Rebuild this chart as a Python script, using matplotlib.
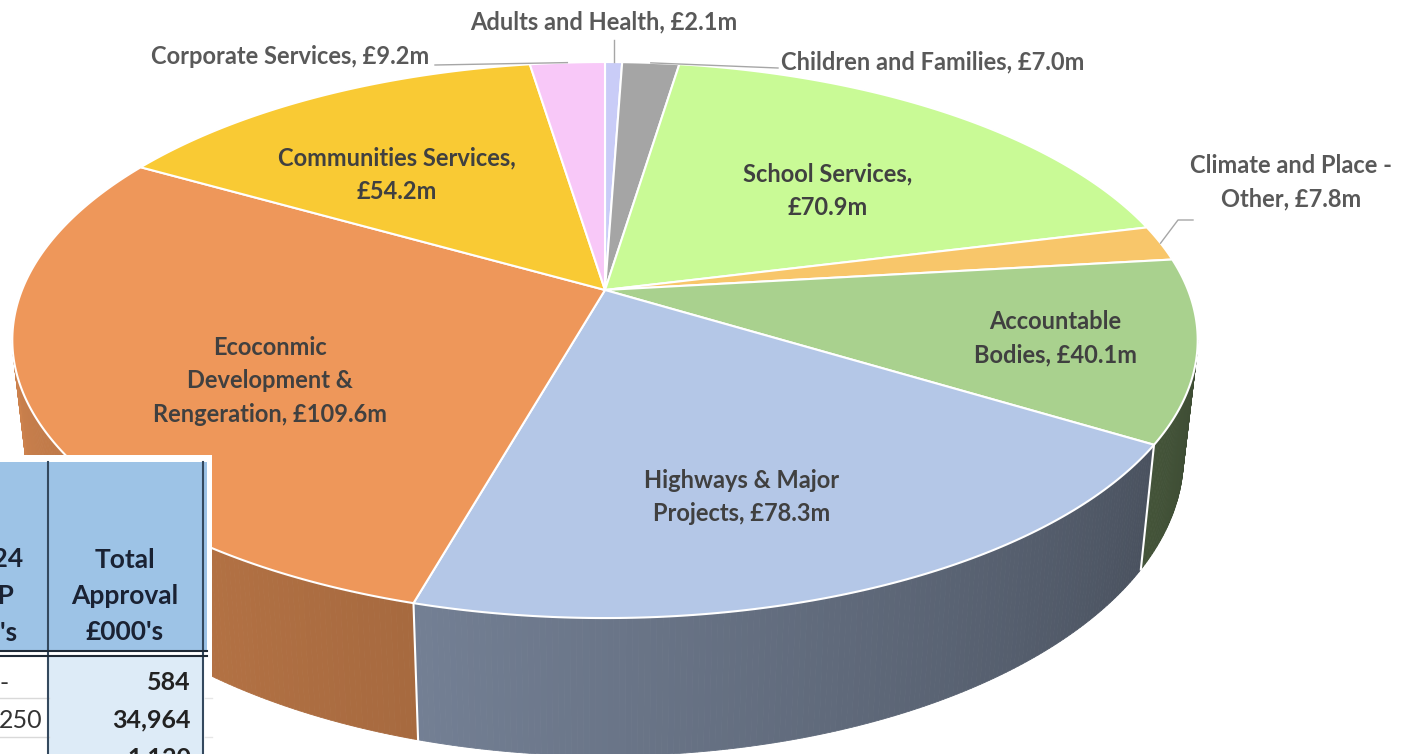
import numpy as np
import matplotlib.pyplot as plt
from matplotlib.patches import Polygon, Rectangle
from matplotlib import colors as mcolors

plt.rcParams['font.family'] = ['Lato', 'DejaVu Sans']

# capital spend by directorate, £m (clockwise from 12 o'clock)
categories = ["Adults and Health", "Children and Families", "School Services",
              "Climate and Place - Other", "Accountable Bodies",
              "Highways & Major Projects", "Ecoconmic Development & Rengeration",
              "Communities Services", "Corporate Services"]
values_m = [2.1, 7.0, 70.9, 7.8, 40.1, 78.3, 109.6, 54.2, 9.2]
label_lines = ["Adults and Health, £2.1m",
               "Children and Families, £7.0m",
               "School Services,\n£70.9m",
               "Climate and Place -\nOther, £7.8m",
               "Accountable\nBodies, £40.1m",
               "Highways & Major\nProjects, £78.3m",
               "Ecoconmic\nDevelopment &\nRengeration, £109.6m",
               "Communities Services,\n£54.2m",
               "Corporate Services, £9.2m"]

# table fragment in the corner
table_header1 = ["2023/24", "MTFP", "£000's"]
table_header2 = "Total\nApproval\n£000's"
table_col1 = ["-", "250", "-"]
table_col2 = ["584", "34,964", "1,120"]

# styling
top_colors = ["#C9CCF7", "#A5A5A5", "#C9FA96", "#F8C66A", "#A9D18E",
              "#B4C7E7", "#EE975A", "#F9CA34", "#F8C8F8"]
# shade factor of the wall at (start angle, end angle) of each visible slice
side_shade = {4: (0.36, 0.40), 5: (0.41, 0.64), 6: (0.70, 0.86)}
label_xy = [(604, 22), (933, 62), (828, 191), (1291, 182), (1055, 338),
            (742, 497), (270, 381), (397, 175), (290, 57)]
inside = [False, False, True, False, True, True, True, True, False]

# perspective disc geometry (pixel space)
CX, CY = 605, 290
A, B, K = 583, 269, 0.18
T, SHRINK = 113, 0.976


def project(alpha, bottom=False):
    a = np.radians(alpha)
    X, Y = np.sin(a), -np.cos(a)
    w = 1 - K * Y
    x = CX + A * X / w
    y = CY + B * Y / w
    if bottom:
        x = CX + (x - CX) * SHRINK
        y = y + T / w
    return x, y


def shade(color, f):
    r, g, b = mcolors.to_rgb(color)
    return (r * f, g * f, b * f)


fig = plt.figure(figsize=(14.06, 7.54), dpi=100)
ax = fig.add_axes([0, 0, 1, 1])
ax.set_xlim(0, 1406)
ax.set_ylim(754, 0)
ax.axis('off')

bounds = np.concatenate([[0], np.cumsum(values_m)]) / sum(values_m) * 360
vis_lo = np.degrees(np.arccos(-K))
vis_hi = 360 - vis_lo

# side wall
for i in range(len(values_m)):
    a0, a1 = max(bounds[i], vis_lo), min(bounds[i + 1], vis_hi)
    if a1 <= a0:
        continue
    f0, f1 = side_shade.get(i, (0.6, 0.6))
    steps = np.linspace(a0, a1, int((a1 - a0) / 0.5) + 2)
    for j in range(len(steps) - 1):
        t = (j + 0.5) / (len(steps) - 1)
        c = shade(top_colors[i], f0 + (f1 - f0) * t)
        p = [project(steps[j]), project(steps[j + 1]),
             project(steps[j + 1], True), project(steps[j], True)]
        ax.add_patch(Polygon(p, closed=True, facecolor=c, edgecolor=c, lw=0.6, zorder=1))
for b in bounds[1:-1]:
    if vis_lo < b < vis_hi:
        (x0, y0), (x1, y1) = project(b), project(b, True)
        ax.plot([x0, x1], [y0, y1], color='white', lw=1.5, zorder=1.5)

# top face
for i in range(len(values_m)):
    arc = np.linspace(bounds[i], bounds[i + 1], int((bounds[i + 1] - bounds[i]) / 0.5) + 2)
    pts = [(CX, CY)] + [project(a) for a in arc]
    ax.add_patch(Polygon(pts, closed=True, facecolor=top_colors[i], edgecolor='white',
                         lw=1.5, joinstyle='round', zorder=2))

# leader lines
mids = (bounds[:-1] + bounds[1:]) / 2
lead = '#A6A6A6'
mx, my = project(mids[0])
ax.plot([mx, mx], [my, 40], color=lead, lw=1, zorder=3)
mx, my = project(mids[1])
ax.plot([mx, 778], [my, 68], color=lead, lw=1, zorder=3)
mx, my = project(mids[3])
ax.plot([mx, 1178, 1193], [my, 220, 220], color=lead, lw=1, zorder=3)
mx, my = project(mids[8])
ax.plot([mx, 435], [my, 65], color=lead, lw=1, zorder=3)

# labels
for txt, (x, y), ins in zip(label_lines, label_xy, inside):
    ax.text(x, y, txt, ha='center', va='center', fontsize=17, fontweight='bold',
            color='#404040' if ins else '#595959', linespacing=1.55, zorder=4)

# table fragment
ax.add_patch(Rectangle((0, 455), 212, 300, facecolor='white', edgecolor='none', zorder=5))
ax.add_patch(Rectangle((0, 462), 207, 190, facecolor='#9DC3E6', edgecolor='none', zorder=5))
ax.add_patch(Rectangle((49, 656), 154, 100, facecolor='#DDEBF7', edgecolor='none', zorder=5))
for yy in (698, 737):
    ax.plot([0, 49], [yy, yy], color='#D9D9D9', lw=1, zorder=5.5)
    ax.plot([205, 212], [yy, yy], color='#E6E6E6', lw=1, zorder=5.5)
for xx in (48, 203):
    ax.plot([xx, xx], [462, 754], color='#34495E', lw=1.5, zorder=6)
ax.plot([0, 207], [651, 651], color='#1F2A36', lw=1.5, zorder=6)
ax.plot([0, 207], [656, 656], color='#1F2A36', lw=1.5, zorder=6)

for txt, xr, y in zip(table_header1, [23, 15, 18], [559, 596, 633]):
    ax.text(xr, y, txt, ha='right', va='center', fontsize=19, fontweight='bold',
            color='#1A2233', zorder=7)
ax.text(125, 596, table_header2, ha='center', va='center', fontsize=19, fontweight='bold',
        color='#1A2233', linespacing=1.6, zorder=7)
row_y = [683, 720, 758]
for v1, v2, y in zip(table_col1, table_col2, row_y):
    ax.text(42 if v1 != '-' else 9, y, v1, ha='right', va='center', fontsize=18,
            color='#333333', zorder=7)
    ax.text(191, y, v2, ha='right', va='center', fontsize=18, fontweight='bold',
            color='#222222', zorder=7)

fig.savefig('out.png', dpi=100)
